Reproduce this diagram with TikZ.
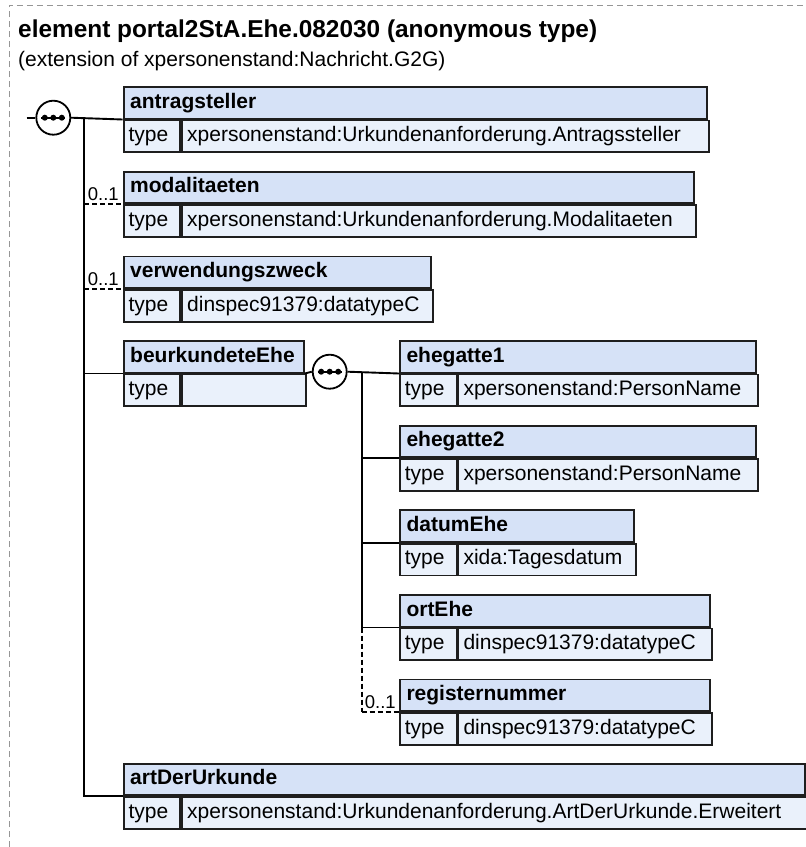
\documentclass[tikz,border=0pt]{standalone}
\usepackage{fontspec}
\setmainfont{Liberation Sans}
\definecolor{hdrfill}{RGB}{214,226,247}
\definecolor{rowfill}{RGB}{234,241,251}
\definecolor{boxline}{RGB}{30,30,30}
\definecolor{framegray}{RGB}{150,150,150}
\tikzset{
 hdrbox/.style={draw=boxline, fill=hdrfill, line width=1.8pt, anchor=north west, minimum height=31.7pt, inner sep=0pt},
 rowbox/.style={draw=boxline, fill=rowfill, line width=1.8pt, anchor=north west, minimum height=31.7pt, inner sep=0pt},
 hdrtext/.style={anchor=base west, inner sep=0pt, font=\bfseries\fontsize{21}{25}\selectfont},
 valtext/.style={anchor=base west, inner sep=0pt, font=\fontsize{21}{25}\selectfont},
 conn/.style={draw=black, line width=1.9pt},
 optconn/.style={conn, dash pattern=on 5pt off 3pt},
 seqnode/.style={circle, draw=black, fill=white, line width=1.8pt, minimum size=34pt, inner sep=0pt},
 occ/.style={font=\fontsize{18.5}{22}\selectfont, inner sep=0pt},
 frame/.style={draw=framegray, line width=1pt, dash pattern=on 6pt off 4pt}
}
\newcommand\elembox[6]{%
 \pgfmathsetmacro\valw{#4-56.5}%
 \node[hdrbox, minimum width=#4pt] (#1) at (#2,#3) {};
 \node[hdrtext] (#1-name) at ([xshift=7.3pt,yshift=-22pt]#1.north west) {#5};
 \node[rowbox, minimum width=56.5pt] (#1-tl) at (#1.south west) {};
 \node[rowbox, minimum width=\valw pt] (#1-tv) at (#1-tl.north east) {};
 \node[valtext] (#1-type) at ([xshift=5.6pt,yshift=-22pt]#1-tl.north west) {type};
 \node[valtext] (#1-val) at ([xshift=6pt,yshift=-22pt]#1-tv.north west) {#6};
}
\newcommand\seqdots[1]{%
 \draw[line width=1.6pt] ([xshift=-12pt]#1.center) -- ([xshift=12pt]#1.center);
 \foreach \d in {-8.5,0,8.5} \fill ([xshift=\d pt]#1.center) circle (3pt);
}
\begin{document}
\begin{tikzpicture}[x=1pt,y=-1pt]
\useasboundingbox (0,0) rectangle (806,847);
\draw[frame] (9,847) -- (9,5) -- (806,5);
\node[anchor=base west, inner sep=0pt, font=\bfseries\fontsize{24.4}{28}\selectfont] (title) at (18,37) {element portal2StA.Ehe.082030 (anonymous type)};
\node[anchor=base west, inner sep=0pt, font=\fontsize{21}{25}\selectfont] (subtitle) at (18,66.5) {(extension of xpersonenstand:Nachricht.G2G)};

\elembox{antragsteller}{122.7}{86}{583.3}{antragsteller}{xpersonenstand:Urkundenanforderung.Antragssteller}
\elembox{modalitaeten}{122.7}{170.7}{570.6}{modalitaeten}{xpersonenstand:Urkundenanforderung.Modalitaeten}
\elembox{verwendungszweck}{122.7}{255.5}{307.3}{verwendungszweck}{dinspec91379:datatypeC}
\elembox{beurkundeteEhe}{122.7}{340}{180.3}{beurkundeteEhe}{}
\elembox{ehegatte1}{399}{340}{356}{ehegatte1}{xpersonenstand:PersonName}
\elembox{ehegatte2}{399}{424.7}{356}{ehegatte2}{xpersonenstand:PersonName}
\elembox{datumEhe}{399}{509.3}{234}{datumEhe}{xida:Tagesdatum}
\elembox{ortEhe}{399}{594}{310}{ortEhe}{dinspec91379:datatypeC}
\elembox{registernummer}{399}{678.5}{310}{registernummer}{dinspec91379:datatypeC}
\elembox{artDerUrkunde}{122.7}{762.7}{681.6}{artDerUrkunde}{xpersonenstand:Urkundenanforderung.ArtDerUrkunde.Erweitert}

% outer sequence
\coordinate (start) at (26.7,117.7);
\node[seqnode] (seq1) at (53.3,117.7) {};
\seqdots{seq1}
\draw[conn] (start) -- (seq1.west);
\draw[conn] (seq1.east) -- (antragsteller.south west);
\coordinate (trunk) at (84,117.7);
\draw[conn] (trunk) |- (artDerUrkunde.south west);
\draw[optconn] (trunk |- modalitaeten.south west) -- node[occ, midway, above=2.4pt] {0..1} (modalitaeten.south west);
\draw[optconn] (trunk |- verwendungszweck.south west) -- node[occ, midway, above=2.4pt] {0..1} (verwendungszweck.south west);
\draw[conn] (trunk |- beurkundeteEhe.south west) -- (beurkundeteEhe.south west);

% inner sequence
\node[seqnode] (seq2) at (329.7,371.7) {};
\seqdots{seq2}
\draw[conn] (beurkundeteEhe.south east) -- (seq2.west);
\draw[conn] (seq2.east) -- (ehegatte1.south west);
\coordinate (trunk2) at (361.7,371.7);
\draw[conn] (trunk2) |- (ortEhe.south west);
\draw[conn] (trunk2 |- ehegatte2.south west) -- (ehegatte2.south west);
\draw[conn] (trunk2 |- datumEhe.south west) -- (datumEhe.south west);
\draw[optconn] (trunk2 |- ortEhe.south west) -- (trunk2 |- registernummer.south west);
\draw[optconn] (trunk2 |- registernummer.south west) -- node[occ, midway, above=2.4pt] {0..1} (registernummer.south west);
\end{tikzpicture}
\end{document}
